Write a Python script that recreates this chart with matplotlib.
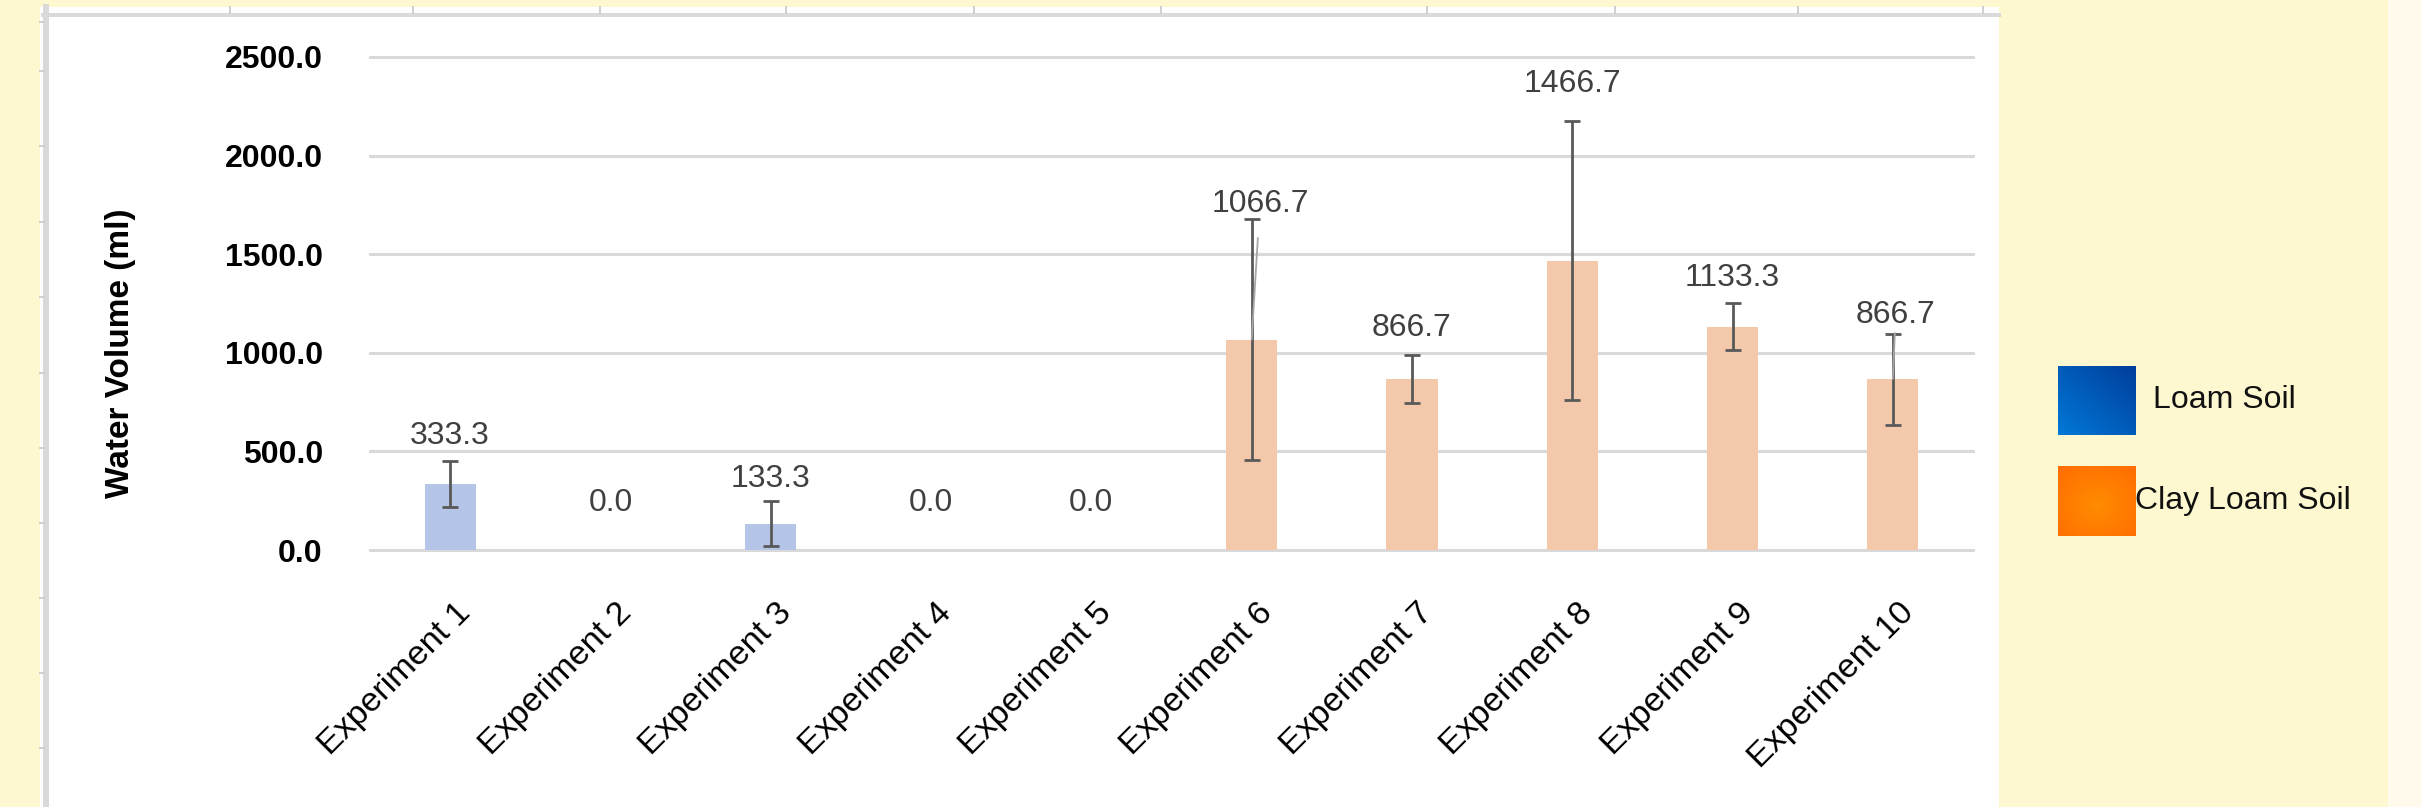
import numpy as np
import matplotlib
matplotlib.use("Agg")
import matplotlib.pyplot as plt
from matplotlib.patches import Rectangle
from matplotlib.lines import Line2D
from matplotlib.transforms import ScaledTranslation

plt.rcParams['font.family'] = ['Liberation Sans', 'DejaVu Sans']

# data
experiments = ["Experiment 1", "Experiment 2", "Experiment 3", "Experiment 4", "Experiment 5",
	"Experiment 6", "Experiment 7", "Experiment 8", "Experiment 9", "Experiment 10"]
loam_values = [333.3, 0.0, 133.3, 0.0, 0.0]
loam_errors = [115.5, 0.0, 115.5, 0.0, 0.0]
clay_values = [1066.7, 866.7, 1466.7, 1133.3, 866.7]
clay_errors = [612.0, 120.0, 707.0, 117.0, 231.0]
y_ticks = [0, 500, 1000, 1500, 2000, 2500]
legend_labels = ["Loam Soil", "Clay Loam Soil"]

# label placement (points above bar top) and leader lines
label_offsets = [35, 34, 32, 34, 34, 98, 37, 127, 35, 46]
label_dx = [0, 0, 0, 0, 0, 6, 0, 0, 0, 2]
leaders = {5: 12, 9: 0}

W, H = 2421, 807


def fx(px):
	return px / W


def fy(py):
	return 1 - py / H


fig = plt.figure(figsize=(W / 100, H / 100), dpi=100, facecolor="#FEF8D0")

# slide-like frame behind the chart
fig.add_artist(Rectangle((fx(40), fy(807)), fx(1999) - fx(40), fy(7) - fy(807),
	transform=fig.transFigure, facecolor="white", edgecolor="none", zorder=-2))
fig.add_artist(Rectangle((fx(2388), 0), 1 - fx(2388), 1,
	transform=fig.transFigure, facecolor="#FFFAEC", edgecolor="none", zorder=-2))
fig.add_artist(Line2D([fx(46), fx(46)], [fy(7), 0], transform=fig.transFigure,
	lw=4.3, color="#D9D9D9", zorder=-1))
fig.add_artist(Line2D([fx(43), fx(1999)], [fy(15), fy(15)], transform=fig.transFigure,
	lw=2.9, color="#DADADA", zorder=-1))
for px in [230, 413, 600, 786, 974, 1161, 1427, 1615, 1798, 1983]:
	fig.add_artist(Line2D([fx(px), fx(px)], [fy(7), fy(13)], transform=fig.transFigure,
		lw=1.4, color="#CFCFCF", zorder=-1))
for py in [22, 71, 146, 222, 297, 373, 448, 523, 598, 673, 748]:
	fig.add_artist(Line2D([fx(40), fx(44)], [fy(py), fy(py)], transform=fig.transFigure,
		lw=1.4, color="#CFCFCF", zorder=-1))

ax = fig.add_axes([fx(370), fy(550), fx(1973) - fx(370), fy(57) - fy(550)])
ax.set_facecolor("none")

x = np.arange(len(experiments))
values = loam_values + clay_values
errors = loam_errors + clay_errors

ax.bar(x[:5], loam_values, width=0.32, color="#B4C5E7", zorder=2)
ax.bar(x[5:], clay_values, width=0.32, color="#F4C8AB", zorder=2)

idx = [i for i in range(len(errors)) if errors[i] > 0]
ax.errorbar(x[idx], np.array(values)[idx], yerr=np.array(errors)[idx], fmt="none",
	ecolor="#595959", elinewidth=2.0, capsize=5.8, capthick=2.0, zorder=3)

for i, v in enumerate(values):
	kw = {}
	if i in leaders:
		kw["arrowprops"] = dict(arrowstyle="-", color="#A6A6A6", lw=1.3,
			shrinkA=leaders[i], shrinkB=0)
	ax.annotate("%.1f" % v, (i, v), xytext=(label_dx[i], label_offsets[i]),
		textcoords="offset points", ha="center", va="center", fontsize=23,
		color="#404040", zorder=4, **kw)

ax.set_xlim(-0.5, 9.5)
ax.set_ylim(0, 2500)
ax.set_yticks(y_ticks, ["%.1f" % t for t in y_ticks])
ax.tick_params(axis="y", length=0, pad=34, labelsize=23)
for lab in ax.get_yticklabels():
	lab.set_fontweight("bold")
ax.yaxis.grid(True, color="#D9D9D9", lw=2.2)
ax.set_axisbelow(True)
for gl in ax.get_ygridlines():
	gl.set_clip_on(False)
for s in ax.spines.values():
	s.set_visible(False)

ax.set_xticks(x, experiments, rotation=45, ha="right", rotation_mode="anchor", fontsize=24.5)
ax.tick_params(axis="x", length=0, pad=34)
for lab in ax.get_xticklabels():
	lab.set_transform(lab.get_transform() + ScaledTranslation(0.05, 0, fig.dpi_scale_trans))

fig.text(fx(121), fy(353), "Water Volume (ml)", rotation=90, ha="center", va="center",
	fontsize=24, fontweight="bold")

# legend squares with gradients
u, v = np.meshgrid(np.linspace(0, 1, 60), np.linspace(0, 1, 60))
t = ((u + v) / 2)[..., None]
blue = np.array([0, 120, 215]) / 255 * (1 - t) + np.array([0, 62, 155]) / 255 * t
r = np.clip(np.sqrt((u - 0.5) ** 2 + (v - 0.45) ** 2) / 0.7, 0, 1)[..., None]
orange = np.array([255, 140, 0]) / 255 * (1 - r) + np.array([255, 110, 0]) / 255 * r

for img, top, bottom, label, tx in [(blue, 366, 435, legend_labels[0], 2153),
		(orange, 466, 536, legend_labels[1], 2135)]:
	lax = fig.add_axes([fx(2058), fy(bottom), fx(2136) - fx(2058), fy(top) - fy(bottom)])
	lax.imshow(img, origin="lower", aspect="auto")
	lax.axis("off")
	fig.text(fx(tx), fy((top + bottom) / 2), label, ha="left", va="center",
		fontsize=23, color="#111111")

fig.savefig("out.png", dpi=100, facecolor=fig.get_facecolor())
